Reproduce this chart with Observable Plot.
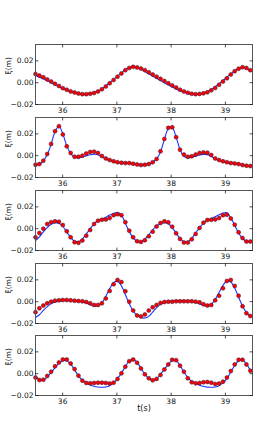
<!DOCTYPE html>
<html><head><meta charset="utf-8">
<script src="https://cdn.jsdelivr.net/npm/d3@7"></script>
<script src="https://cdn.jsdelivr.net/npm/@observablehq/plot@0.6"></script>
<style>
html,body{margin:0;padding:0;background:#fff;}
#wrap{position:relative;width:280px;height:440px;overflow:hidden;font-family:"DejaVu Sans",sans-serif;}
#wrap svg{position:absolute;left:0;}
</style></head><body><div id="wrap"></div>
<script>
// time samples (s)
const t = [35.5, 35.572, 35.644, 35.716, 35.788, 35.86, 35.932, 36.004,
 36.076, 36.148, 36.22, 36.292, 36.364, 36.436, 36.508, 36.58,
 36.652, 36.724, 36.796, 36.868, 36.94, 37.012, 37.084, 37.156,
 37.228, 37.3, 37.372, 37.444, 37.516, 37.588, 37.66, 37.732,
 37.804, 37.876, 37.948, 38.02, 38.092, 38.164, 38.236, 38.308,
 38.38, 38.452, 38.524, 38.596, 38.668, 38.74, 38.812, 38.884,
 38.956, 39.028, 39.1, 39.172, 39.244, 39.316, 39.388, 39.46];

// measured (red dots) and modelled (blue line) surface elevation, per gauge
const obs1 = [0.008, 0.0065, 0.005, 0.003, 0.001, -0.001, -0.003, -0.005,
 -0.0065, -0.008, -0.009, -0.01, -0.0105, -0.0105, -0.0102, -0.0095,
 -0.008, -0.006, -0.0035, -0.0005, 0.0025, 0.0055, 0.0085, 0.0115,
 0.0135, 0.0145, 0.014, 0.013, 0.0115, 0.0095, 0.0075, 0.0055,
 0.0035, 0.0015, -0.0005, -0.0025, -0.0045, -0.0065, -0.008, -0.0092,
 -0.0102, -0.0105, -0.0103, -0.0098, -0.0088, -0.007, -0.0048, -0.002,
 0.001, 0.004, 0.0075, 0.0105, 0.0128, 0.0142, 0.0135, 0.0115];
const mod1 = [0.0065, 0.005, 0.0035, 0.0018, 0.0, -0.002, -0.0038, -0.0055,
 -0.007, -0.0083, -0.0093, -0.0101, -0.0105, -0.0106, -0.0102, -0.0093,
 -0.0078, -0.0057, -0.003, 0.0, 0.003, 0.006, 0.009, 0.0118,
 0.0137, 0.0145, 0.0137, 0.0122, 0.0103, 0.0082, 0.006, 0.004,
 0.002, 0.0, -0.002, -0.004, -0.0058, -0.0075, -0.0088, -0.0098,
 -0.0104, -0.0106, -0.0103, -0.0096, -0.0083, -0.0063, -0.0038, -0.001,
 0.002, 0.005, 0.008, 0.0108, 0.013, 0.0142, 0.0132, 0.0108];

const obs2 = [-0.0083, -0.0077, -0.0046, 0.0015, 0.0108, 0.0225, 0.027, 0.0194,
 0.0086, 0.0025, -0.001, -0.001, 0.0, 0.002, 0.0034, 0.0037,
 0.0025, -0.0003, -0.0025, -0.004, -0.0052, -0.006, -0.0065, -0.0068,
 -0.0068, -0.0074, -0.008, -0.0086, -0.0083, -0.0077, -0.006, -0.003,
 0.004, 0.0154, 0.0255, 0.026, 0.017, 0.0055, 0.001, -0.001,
 -0.0006, 0.001, 0.0025, 0.003, 0.0028, 0.0006, -0.0025, -0.004,
 -0.0052, -0.006, -0.0068, -0.0071, -0.0077, -0.0086, -0.0092, -0.0095];
const mod2 = [-0.0085, -0.0078, -0.005, 0.001, 0.0105, 0.022, 0.027, 0.02,
 0.009, 0.002, -0.0015, -0.002, -0.0012, -0.0002, 0.0008, 0.0013,
 0.0008, -0.001, -0.003, -0.0045, -0.0055, -0.0062, -0.0066, -0.0069,
 -0.0071, -0.0075, -0.008, -0.0085, -0.0084, -0.0078, -0.0062, -0.003,
 0.0035, 0.015, 0.0245, 0.0255, 0.017, 0.0055, -0.0005, -0.002,
 -0.0015, -0.0004, 0.0007, 0.0012, 0.001, -0.0005, -0.003, -0.0045,
 -0.0055, -0.0062, -0.0068, -0.0072, -0.0078, -0.0086, -0.0092, -0.0097];

const obs3 = [-0.0079, -0.004, 0.0, 0.0042, 0.006, 0.0067, 0.0064, 0.0033,
 -0.0024, -0.0079, -0.0124, -0.013, -0.0109, -0.0064, -0.0012, 0.0042,
 0.0073, 0.0082, 0.0085, 0.0097, 0.0124, 0.0133, 0.0124, 0.006,
 -0.0018, -0.0079, -0.0115, -0.0121, -0.0106, -0.007, -0.0027, 0.0021,
 0.0052, 0.0067, 0.0058, 0.0018, -0.0042, -0.0094, -0.0127, -0.0127,
 -0.0097, -0.0048, 0.0006, 0.0055, 0.0079, 0.0082, 0.0085, 0.0097,
 0.0124, 0.0127, 0.0094, 0.0036, -0.0033, -0.0085, -0.0118, -0.0118];
const mod3 = [-0.011, -0.0075, -0.003, 0.001, 0.004, 0.0055, 0.005, 0.002,
 -0.003, -0.008, -0.0115, -0.012, -0.0095, -0.005, 0.0, 0.0045,
 0.0072, 0.0085, 0.0105, 0.0125, 0.014, 0.0148, 0.0125, 0.005,
 -0.0025, -0.0085, -0.0115, -0.012, -0.0095, -0.0055, -0.001, 0.0025,
 0.0048, 0.0055, 0.0045, 0.001, -0.004, -0.009, -0.012, -0.012,
 -0.009, -0.004, 0.001, 0.005, 0.0078, 0.0092, 0.011, 0.0128,
 0.0143, 0.0145, 0.01, 0.003, -0.004, -0.009, -0.0115, -0.012];

const obs4 = [-0.0096, -0.006, -0.0036, -0.0015, 0.0, 0.0009, 0.0012, 0.0015,
 0.0015, 0.0012, 0.0009, 0.0006, 0.0003, -0.0003, -0.0015, -0.003,
 -0.003, -0.0015, 0.003, 0.0099, 0.016, 0.0199, 0.018, 0.0096,
 0.0, -0.0081, -0.0126, -0.0135, -0.0117, -0.0081, -0.0051, -0.003,
 -0.0012, -0.0003, 0.0, 0.0, 0.0003, 0.0003, 0.0003, 0.0003,
 0.0003, 0.0, -0.0006, -0.0024, -0.0036, -0.003, 0.0012, 0.0054,
 0.0123, 0.019, 0.0199, 0.0144, 0.0054, -0.0042, -0.0105, -0.0132];
const mod4 = [-0.0145, -0.012, -0.008, -0.0045, -0.002, -0.0003, 0.0007, 0.001,
 0.001, 0.0008, 0.0005, 0.0002, -0.0003, -0.0012, -0.0028, -0.004,
 -0.0038, -0.001, 0.005, 0.012, 0.0175, 0.0185, 0.0145, 0.0065,
 -0.002, -0.0085, -0.0125, -0.0145, -0.015, -0.0135, -0.0095, -0.0055,
 -0.0025, -0.0007, 0.0003, 0.0008, 0.001, 0.001, 0.0008, 0.0005,
 0.0, -0.0008, -0.002, -0.0035, -0.004, -0.0025, 0.002, 0.0085,
 0.015, 0.019, 0.018, 0.0125, 0.004, -0.004, -0.01, -0.0135];

const obs5 = [-0.0036, -0.0058, -0.0055, -0.0021, 0.0018, 0.0067, 0.0103, 0.013,
 0.013, 0.0094, 0.0042, -0.0018, -0.0064, -0.0085, -0.0088, -0.0085,
 -0.0082, -0.0082, -0.0085, -0.0091, -0.0082, -0.0048, 0.0003, 0.0064,
 0.0115, 0.013, 0.01, 0.0048, -0.0006, -0.0042, -0.0061, -0.0048,
 -0.0012, 0.0039, 0.0085, 0.0127, 0.0124, 0.0073, 0.0018, -0.0042,
 -0.0079, -0.0088, -0.0085, -0.0079, -0.0076, -0.0082, -0.0094, -0.0091,
 -0.0073, -0.0036, 0.0024, 0.0085, 0.0127, 0.0127, 0.0085, 0.0027];
const mod5 = [-0.002, -0.0055, -0.006, -0.003, 0.001, 0.0055, 0.0095, 0.0118,
 0.0118, 0.0088, 0.0035, -0.002, -0.006, -0.0085, -0.0103, -0.0115,
 -0.0122, -0.0125, -0.0122, -0.011, -0.0085, -0.0045, 0.0005, 0.0065,
 0.0115, 0.013, 0.0105, 0.005, -0.0005, -0.0045, -0.006, -0.0045,
 -0.0005, 0.004, 0.0085, 0.012, 0.012, 0.0075, 0.0015, -0.0035,
 -0.007, -0.009, -0.0105, -0.0117, -0.0123, -0.0125, -0.0122, -0.011,
 -0.0085, -0.0045, 0.0015, 0.0075, 0.0118, 0.0125, 0.009, 0.003];

const xTicks = [36, 37, 38, 39];
const yTicks = [-0.02, 0, 0.02];
const yLabel = "ξ(m)";
const xLabel = "t(s)";

const panels = [[obs1, mod1], [obs2, mod2], [obs3, mod3], [obs4, mod4], [obs5, mod5]];
const panelTops = [44, 117, 190, 263, 335];

const tickShape = {draw(ctx, l) { ctx.moveTo(0, 0); ctx.lineTo(0, -l); }};
const tickStyle = {length: 2.5, anchor: "start", shape: tickShape, stroke: "#222", strokeWidth: 0.8};

const wrap = document.getElementById("wrap");
panels.forEach(([obs, mod], k) => {
  const last = k === panels.length - 1;
  const mt = 3, inner = 60, mb = last ? 24 : 10;
  const marks = [
    Plot.line(t, {x: t, y: mod, stroke: "#2233ff", strokeWidth: 1.1, curve: "catmull-rom"}),
    Plot.dot(t, {x: t, y: obs, r: 2.0, fill: "#ff0000", stroke: "#2a1a40", strokeWidth: 0.5}),
    Plot.frame({stroke: "#555", strokeWidth: 1}),
    Plot.vector(xTicks, {x: d => d, frameAnchor: "bottom", rotate: 0, ...tickStyle}),
    Plot.vector(xTicks, {x: d => d, frameAnchor: "top", rotate: 180, ...tickStyle}),
    Plot.vector(yTicks, {y: d => d, frameAnchor: "left", rotate: 90, ...tickStyle}),
    Plot.vector(yTicks, {y: d => d, frameAnchor: "right", rotate: -90, ...tickStyle}),
    Plot.axisX({ticks: xTicks, tickSize: 0, tickPadding: 3, tickFormat: d => String(d), label: null, fontSize: 7.5, fill: "#111"}),
    Plot.axisY({ticks: yTicks, tickSize: 0, tickPadding: 2, tickFormat: d3.format(".2f"), label: null, fontSize: 7.5, fill: "#111"}),
    Plot.text([yLabel], {text: d => d, frameAnchor: "left", dx: -27, rotate: -90, fontSize: 7.5, fill: "#111"})
  ];
  if (last) marks.push(Plot.text([xLabel], {text: d => d, frameAnchor: "bottom", dy: 15, fontSize: 8, fill: "#111"}));
  const svg = Plot.plot({
    width: 280, height: mt + inner + mb,
    marginTop: mt, marginBottom: mb, marginLeft: 35, marginRight: 28,
    style: {background: "transparent", fontFamily: "'DejaVu Sans', sans-serif", overflow: "visible"},
    x: {domain: [35.5, 39.5]},
    y: {domain: [-0.02, 0.035]},
    marks
  });
  svg.style.top = (panelTops[k] - mt) + "px";
  wrap.appendChild(svg);
});
</script></body></html>
